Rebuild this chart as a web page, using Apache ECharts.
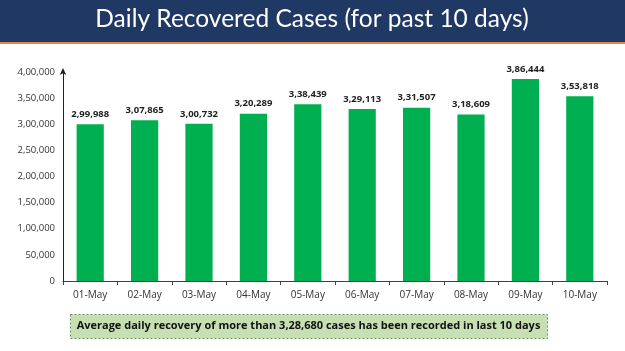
<!DOCTYPE html>
<html>
<head>
<meta charset="utf-8">
<script src="https://cdn.jsdelivr.net/npm/echarts@6/dist/echarts.min.js"></script>
<style>html,body{margin:0;padding:0;background:#fff;}#c{width:625px;height:351px;}</style>
</head>
<body>
<div id="c"></div>
<script>
var categories = ['01-May','02-May','03-May','04-May','05-May','06-May','07-May','08-May','09-May','10-May'];
var recovered = [299988, 307865, 300732, 320289, 338439, 329113, 331507, 318609, 386444, 353818];
var yTicks = {min: 0, max: 400000, interval: 50000};
var titleText = 'Daily Recovered Cases (for past 10 days)';
var noteText = 'Average daily recovery of more than 3,28,680 cases has been recorded in last 10 days';

function inr(n) {
  var s = String(Math.round(n));
  if (s.length <= 3) return s;
  var last3 = s.slice(-3);
  var rest = s.slice(0, -3).replace(/\B(?=(\d{2})+(?!\d))/g, ',');
  return rest + ',' + last3;
}

var chart = echarts.init(document.getElementById('c'), null, {renderer: 'canvas'});
chart.setOption({
  animation: false,
  backgroundColor: '#ffffff',
  grid: {left: 63, right: 18, top: 72, bottom: 70, containLabel: false},
  xAxis: {
    type: 'category',
    data: categories,
    axisLine: {lineStyle: {color: '#404040', width: 1}},
    axisTick: {show: true, length: 4, lineStyle: {color: '#404040'}},
    axisLabel: {color: '#333', fontFamily: 'Open Sans', fontSize: 10, margin: 9}
  },
  yAxis: {
    type: 'value',
    min: yTicks.min, max: yTicks.max, interval: yTicks.interval,
    splitLine: {show: false},
    axisLine: {show: true, symbol: ['none', 'arrow'], symbolSize: [5, 7], symbolOffset: [0, 4], lineStyle: {color: '#202020', width: 1}},
    axisTick: {show: false},
    axisLabel: {color: '#333', fontFamily: 'Open Sans', fontSize: 9.5, margin: 8, formatter: function (v) { return inr(v); }}
  },
  series: [{
    type: 'bar',
    data: recovered,
    barWidth: '50%',
    itemStyle: {color: '#00b050'},
    label: {
      show: true, position: 'top', distance: 5,
      color: '#222', fontFamily: 'Open Sans', fontWeight: 'bold', fontSize: 9.5,
      formatter: function (p) { return inr(p.value); }
    }
  }],
  graphic: [
    {type: 'rect', left: 0, top: 0, shape: {width: 625, height: 42}, style: {fill: '#1f3864'}, z: 10},
    {type: 'rect', left: 0, top: 42, shape: {width: 625, height: 2}, style: {fill: '#e8834a'}, z: 10},
    {type: 'text', x: 312, y: 7, z: 11, style: {text: titleText, fill: '#ffffff', font: '24.5px Lato', textAlign: 'center'}},
    {type: 'rect', left: 70, top: 314, shape: {width: 477, height: 24}, style: {fill: '#c6e0b4', stroke: '#6f8f5a', lineWidth: 1, lineDash: [2, 2]}, z: 10},
    {type: 'text', x: 308.5, y: 320, z: 11, style: {text: noteText, fill: '#111', font: 'bold 11px "Open Sans"', textAlign: 'center'}}
  ]
});
</script>
</body>
</html>
